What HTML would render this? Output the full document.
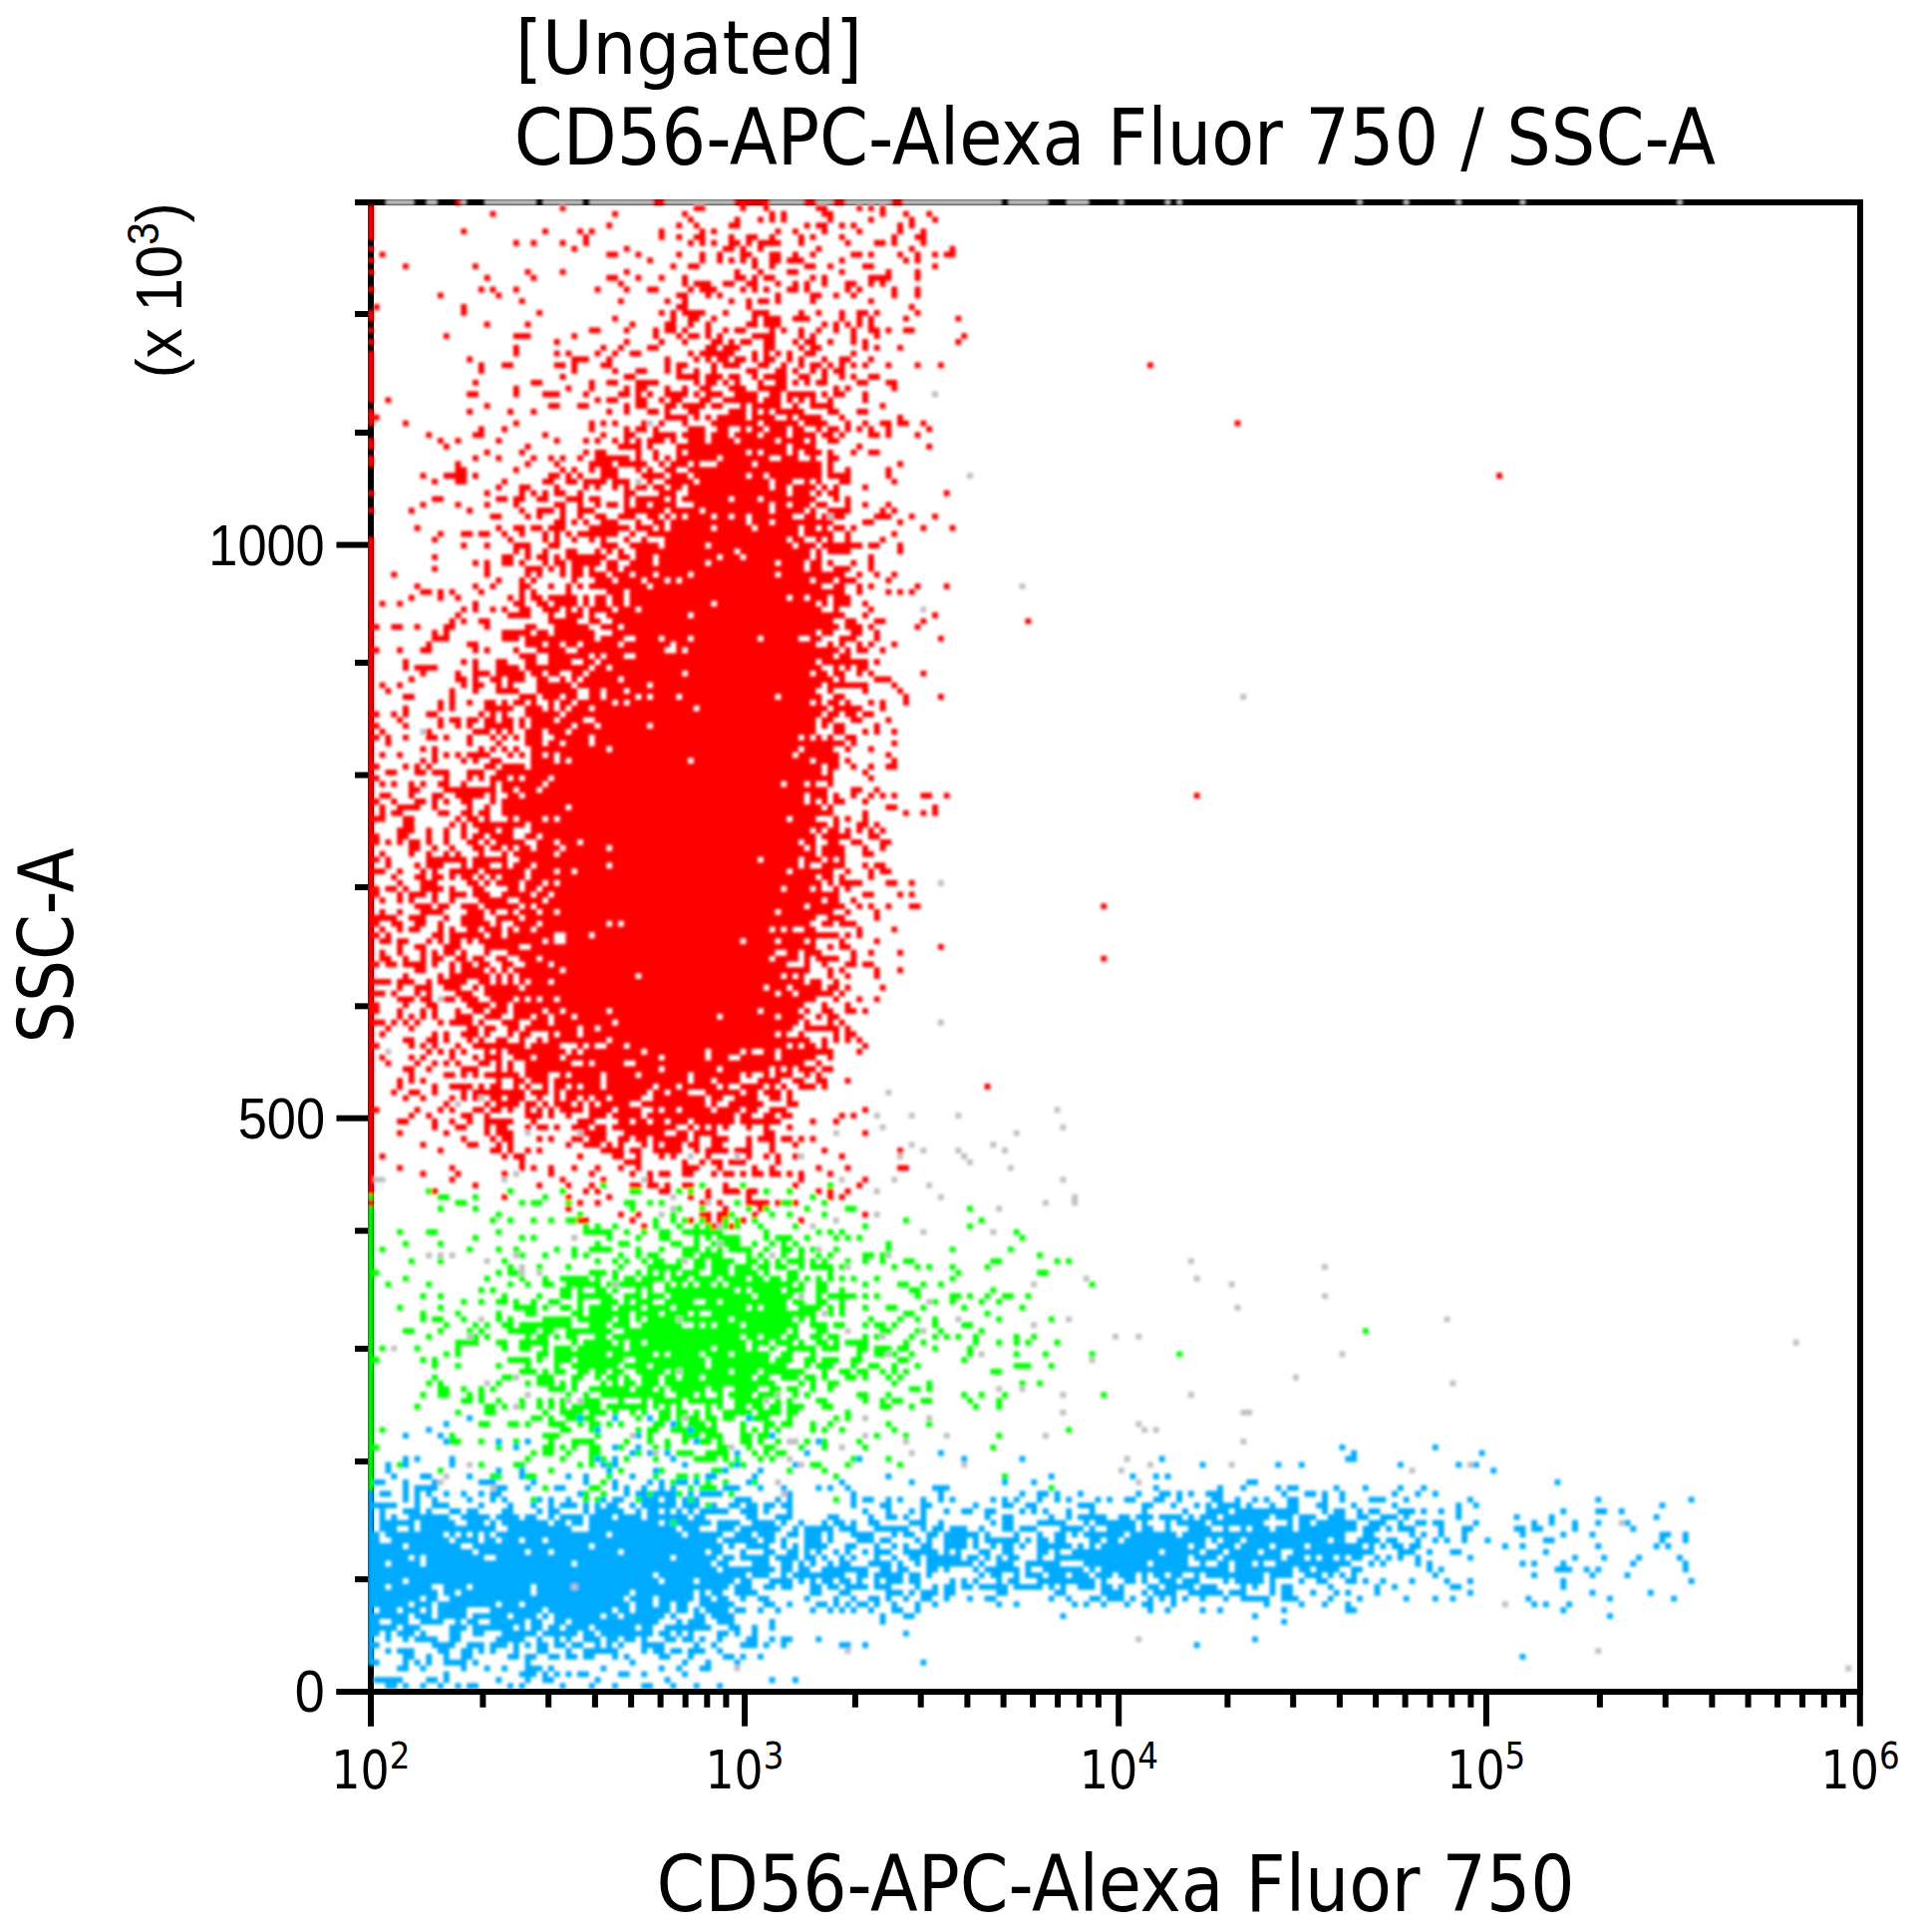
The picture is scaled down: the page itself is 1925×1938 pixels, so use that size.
<!DOCTYPE html>
<html><head><meta charset="utf-8"><title>CD56-APC-Alexa Fluor 750 / SSC-A</title>
<style>
html,body{margin:0;padding:0;background:#fff;}
body{width:1925px;height:1938px;overflow:hidden;position:relative;}
svg{position:absolute;left:0;top:0;}
.t{font-family:"DejaVu Sans Condensed","DejaVu Sans",sans-serif;font-stretch:condensed;fill:#000;}
.a{font-family:"Liberation Sans",Arial,sans-serif;fill:#000;}
</style></head><body>
<svg width="1925" height="1938" viewBox="0 0 1925 1938">
<g fill="#000">
<rect x="369.0" y="200.0" width="1500.0" height="6.0"/>
<rect x="1863.0" y="200.0" width="6.0" height="1500.0"/>
<rect x="337.5" y="1694.0" width="1531.5" height="6.0"/>
<rect x="369.0" y="200.0" width="6.0" height="1531.5"/>
<rect x="337.5" y="1694.0" width="35.0" height="6.0"/>
<rect x="337.5" y="1118.7" width="35.0" height="6.0"/>
<rect x="337.5" y="543.6" width="35.0" height="6.0"/>
<rect x="356.0" y="1581.2" width="16.0" height="6.0"/>
<rect x="356.0" y="1463.0" width="16.0" height="6.0"/>
<rect x="356.0" y="1349.9" width="16.0" height="6.0"/>
<rect x="356.0" y="1231.6" width="16.0" height="6.0"/>
<rect x="356.0" y="1006.3" width="16.0" height="6.0"/>
<rect x="356.0" y="887.0" width="16.0" height="6.0"/>
<rect x="356.0" y="774.5" width="16.0" height="6.0"/>
<rect x="356.0" y="661.8" width="16.0" height="6.0"/>
<rect x="356.0" y="431.0" width="16.0" height="6.0"/>
<rect x="356.0" y="312.0" width="16.0" height="6.0"/>
<rect x="356.0" y="200.0" width="16.0" height="6.0"/>
<rect x="369.0" y="1697.0" width="6.0" height="34.6"/>
<rect x="481.4" y="1697.0" width="6.0" height="15.7"/>
<rect x="547.2" y="1697.0" width="6.0" height="15.7"/>
<rect x="593.9" y="1697.0" width="6.0" height="15.7"/>
<rect x="630.1" y="1697.0" width="6.0" height="15.7"/>
<rect x="659.6" y="1697.0" width="6.0" height="15.7"/>
<rect x="684.6" y="1697.0" width="6.0" height="15.7"/>
<rect x="706.3" y="1697.0" width="6.0" height="15.7"/>
<rect x="725.4" y="1697.0" width="6.0" height="15.7"/>
<rect x="744.0" y="1697.0" width="6.0" height="34.6"/>
<rect x="854.9" y="1697.0" width="6.0" height="15.7"/>
<rect x="920.7" y="1697.0" width="6.0" height="15.7"/>
<rect x="967.4" y="1697.0" width="6.0" height="15.7"/>
<rect x="1003.6" y="1697.0" width="6.0" height="15.7"/>
<rect x="1033.1" y="1697.0" width="6.0" height="15.7"/>
<rect x="1058.1" y="1697.0" width="6.0" height="15.7"/>
<rect x="1079.8" y="1697.0" width="6.0" height="15.7"/>
<rect x="1098.9" y="1697.0" width="6.0" height="15.7"/>
<rect x="1119.2" y="1697.0" width="6.0" height="34.6"/>
<rect x="1228.4" y="1697.0" width="6.0" height="15.7"/>
<rect x="1294.2" y="1697.0" width="6.0" height="15.7"/>
<rect x="1340.9" y="1697.0" width="6.0" height="15.7"/>
<rect x="1377.1" y="1697.0" width="6.0" height="15.7"/>
<rect x="1406.6" y="1697.0" width="6.0" height="15.7"/>
<rect x="1431.6" y="1697.0" width="6.0" height="15.7"/>
<rect x="1453.3" y="1697.0" width="6.0" height="15.7"/>
<rect x="1472.4" y="1697.0" width="6.0" height="15.7"/>
<rect x="1487.9" y="1697.0" width="6.0" height="34.6"/>
<rect x="1601.9" y="1697.0" width="6.0" height="15.7"/>
<rect x="1667.7" y="1697.0" width="6.0" height="15.7"/>
<rect x="1714.4" y="1697.0" width="6.0" height="15.7"/>
<rect x="1750.6" y="1697.0" width="6.0" height="15.7"/>
<rect x="1780.1" y="1697.0" width="6.0" height="15.7"/>
<rect x="1805.1" y="1697.0" width="6.0" height="15.7"/>
<rect x="1826.8" y="1697.0" width="6.0" height="15.7"/>
<rect x="1845.9" y="1697.0" width="6.0" height="15.7"/>
<rect x="1862.8" y="1697.0" width="6.0" height="34.6"/>
</g>
<defs><filter id="bl" x="-1%" y="-1%" width="102%" height="102%"><feGaussianBlur stdDeviation="0.26"/></filter></defs>
<svg x="369" y="200" width="1494" height="1494" viewBox="0 0 256 256" preserveAspectRatio="none">
<g transform="translate(0 .5)" stroke-width="1" fill="none" filter="url(#bl)">
<path stroke="#c0c0c0" d="M3 0h5M10 0h2M16 0h1M20 0h9M30 0h7M38 0h11M51 0h12M69 0h6M77 0h3M82 0h8M92 0h17M110 0h7M120 0h4M129 0h1M137 0h1M139 0h1M170 0h1M178 0h1M187 0h1M198 0h1M225 0h1M97 33h1M48 38h1M103 47h1M46 48h1M79 54h1M112 66h1M95 70h1M150 85h1M9 91h1M98 117h1M12 137h1M98 141h1M3 146h1M89 153h1M19 154h1M15 155h1M118 156h1M87 157h1M93 157h1M101 157h1M88 159h1M119 159h1M27 160h1M36 160h1M80 160h1M111 160h1M93 162h1M107 162h1M95 163h1M101 163h1M109 163h1M55 164h1M63 164h1M74 164h1M91 164h1M102 164h1M103 165h1M110 166h1M25 167h1M1 168h2M23 168h1M47 168h1M81 168h1M90 168h1M119 168h1M96 169h1M87 170h1M52 171h1M98 171h1M121 171h1M58 172h1M116 172h1M121 172h1M52 173h1M108 173h1M50 174h1M87 174h1M80 175h1M60 176h1M76 176h1M95 177h1M107 177h1M35 178h1M60 179h1M77 180h1M10 181h1M12 181h1M14 181h1M25 181h1M69 181h1M89 181h1M20 182h1M54 182h1M141 182h1M26 183h1M82 183h1M164 183h1M26 184h1M29 184h1M123 185h1M142 185h1M42 186h1M114 186h1M148 186h1M74 188h1M164 188h1M96 189h1M149 190h1M78 191h1M19 192h1M53 192h1M101 192h1M120 192h1M185 192h1M114 193h1M82 194h1M95 194h1M17 195h1M88 195h1M128 195h1M132 195h1M245 196h1M4 197h1M89 198h1M105 198h1M167 198h1M124 199h1M53 201h1M25 202h1M159 202h1M20 203h1M186 203h1M108 204h1M112 204h1M27 205h1M70 205h1M119 205h1M141 205h1M34 206h1M36 206h1M68 206h1M25 207h1M119 208h1M150 208h2M54 209h1M85 209h1M96 209h1M132 210h1M133 211h1M135 211h1M45 212h1M85 212h1M99 212h1M116 212h1M72 213h2M92 213h1M150 213h1M62 214h1M81 214h1M49 215h1M93 215h1M72 216h1M130 216h1M17 217h1M74 217h1M102 217h1M134 217h1M148 217h1M189 217h1M129 218h1M179 218h1M13 219h1M12 220h1M70 220h1M132 220h1M21 221h1M71 222h1M215 227h1M35 238h1M195 241h1M132 247h1M82 249h1M211 249h1M63 252h1M254 252h1"/>
<path stroke="#00aaff" d="M17 209h1M36 209h1M42 209h1M48 209h1M65 209h1M13 210h1M52 210h1M10 211h1M39 211h1M55 211h1M6 212h1M12 212h1M46 212h1M69 212h1M13 213h1M22 213h1M27 213h1M56 213h1M77 213h1M25 214h1M42 214h1M46 214h1M167 214h1M183 214h1M45 215h1M48 215h1M51 215h1M63 215h1M75 215h1M98 215h1M169 215h1M191 215h1M6 216h1M8 216h1M14 216h1M39 216h1M42 216h1M52 216h1M84 216h1M102 216h1M112 216h1M136 216h1M168 216h2M3 217h1M6 217h1M14 217h1M40 217h1M42 217h1M54 217h1M63 217h1M73 217h1M143 217h1M156 217h1M160 217h1M177 217h1M187 217h1M190 217h1M3 218h1M22 218h1M26 218h1M41 218h1M49 218h1M61 218h1M67 218h1M193 218h1M4 219h1M9 219h2M17 219h1M26 219h1M34 219h1M37 219h1M45 219h1M58 219h2M66 219h1M89 219h1M117 219h1M131 219h1M135 219h1M137 219h1M1 220h2M6 220h1M11 220h1M19 220h3M28 220h1M37 220h1M42 220h1M48 220h1M50 220h1M53 220h2M56 220h1M65 220h1M81 220h1M93 220h1M109 220h1M114 220h1M151 220h2M204 220h1M6 221h1M8 221h4M22 221h2M27 221h1M32 221h2M42 221h1M44 221h1M47 221h1M50 221h1M52 221h1M61 221h3M67 221h1M71 221h1M77 221h1M79 221h1M82 221h1M97 221h3M135 221h1M146 221h1M150 221h1M156 221h1M158 221h2M166 221h1M171 221h1M177 221h1M181 221h1M0 222h1M2 222h2M6 222h1M8 222h1M10 222h1M13 222h1M16 222h1M19 222h1M21 222h2M36 222h1M44 222h1M46 222h2M49 222h4M55 222h1M57 222h4M72 222h1M83 222h1M98 222h1M112 222h1M115 222h2M118 222h1M122 222h1M132 222h1M136 222h2M139 222h1M141 222h1M144 222h3M157 222h1M161 222h2M164 222h1M167 222h1M176 222h1M180 222h1M183 222h1M0 223h1M6 223h1M8 223h1M11 223h1M17 223h1M21 223h1M23 223h1M29 223h1M31 223h1M34 223h1M40 223h1M42 223h2M47 223h3M51 223h2M54 223h1M56 223h1M63 223h3M70 223h1M72 223h1M83 223h1M85 223h2M89 223h1M91 223h1M95 223h1M98 223h1M100 223h1M107 223h1M109 223h1M111 223h1M115 223h1M118 223h1M120 223h1M125 223h1M127 223h1M130 223h2M135 223h2M139 223h1M145 223h2M149 223h1M152 223h1M154 223h1M158 223h2M164 223h1M167 223h1M172 223h3M178 223h1M189 223h1M211 223h1M227 223h1M0 224h5M8 224h1M11 224h3M19 224h1M24 224h1M28 224h1M31 224h1M33 224h3M37 224h1M39 224h1M41 224h2M45 224h1M47 224h6M54 224h3M59 224h1M62 224h2M65 224h2M68 224h2M71 224h2M83 224h1M88 224h2M95 224h2M104 224h1M109 224h2M113 224h2M122 224h3M133 224h2M138 224h1M142 224h1M144 224h1M146 224h4M151 224h1M155 224h1M158 224h2M163 224h2M169 224h1M176 224h1M187 224h1M190 224h1M222 224h1M0 225h1M2 225h1M6 225h3M10 225h1M14 225h2M17 225h2M23 225h2M29 225h1M31 225h2M37 225h1M39 225h5M46 225h1M48 225h2M51 225h1M53 225h1M55 225h1M57 225h5M64 225h3M68 225h1M72 225h1M85 225h1M89 225h1M93 225h1M95 225h1M99 225h1M102 225h2M106 225h2M112 225h1M114 225h1M116 225h1M120 225h1M124 225h1M133 225h1M140 225h1M144 225h4M149 225h11M164 225h1M166 225h2M170 225h1M172 225h2M177 225h3M181 225h1M184 225h1M187 225h1M205 225h1M211 225h2M215 225h1M0 226h1M2 226h1M4 226h1M7 226h7M16 226h5M22 226h4M27 226h2M31 226h1M33 226h4M38 226h4M43 226h4M48 226h7M56 226h2M65 226h2M70 226h3M79 226h2M86 226h1M89 226h2M92 226h1M95 226h1M106 226h1M109 226h2M117 226h1M120 226h1M122 226h5M129 226h2M132 226h3M136 226h4M141 226h1M143 226h3M147 226h8M156 226h3M160 226h3M165 226h3M170 226h2M174 226h3M178 226h1M187 226h1M197 226h1M203 226h1M221 226h1M0 227h1M2 227h6M9 227h6M17 227h3M21 227h1M23 227h8M32 227h2M35 227h2M38 227h12M51 227h1M53 227h6M60 227h4M66 227h4M71 227h1M74 227h1M78 227h1M80 227h2M83 227h1M86 227h2M93 227h3M98 227h1M107 227h1M109 227h2M115 227h5M123 227h1M125 227h7M133 227h1M137 227h1M139 227h5M145 227h9M158 227h1M160 227h2M163 227h7M172 227h3M177 227h1M180 227h2M183 227h2M190 227h1M200 227h1M203 227h1M207 227h1M211 227h1M216 227h1M0 228h1M2 228h3M7 228h1M9 228h13M24 228h11M38 228h15M54 228h3M60 228h3M64 228h7M73 228h1M75 228h5M81 228h3M87 228h6M95 228h1M97 228h2M100 228h3M105 228h1M109 228h2M112 228h3M119 228h4M124 228h1M127 228h5M133 228h2M137 228h1M141 228h4M147 228h1M150 228h1M152 228h3M156 228h3M160 228h10M171 228h3M175 228h1M177 228h3M184 228h1M188 228h2M197 228h2M200 228h2M207 228h1M217 228h1M0 229h2M3 229h10M14 229h1M16 229h1M18 229h1M20 229h1M22 229h19M42 229h12M55 229h6M63 229h3M67 229h3M72 229h2M75 229h3M79 229h1M83 229h4M90 229h1M92 229h2M96 229h2M99 229h6M106 229h1M111 229h1M115 229h1M118 229h2M121 229h1M123 229h7M131 229h8M140 229h28M171 229h2M179 229h1M181 229h1M184 229h1M188 229h1M198 229h1M205 229h1M210 229h1M222 229h2M226 229h1M0 230h2M4 230h10M15 230h4M20 230h2M23 230h3M27 230h3M31 230h29M61 230h6M68 230h2M71 230h1M75 230h3M79 230h1M84 230h3M88 230h2M94 230h1M96 230h1M99 230h4M104 230h1M106 230h6M113 230h1M115 230h2M118 230h2M124 230h2M127 230h2M130 230h14M145 230h1M147 230h3M151 230h14M166 230h2M170 230h4M175 230h2M180 230h1M183 230h1M185 230h1M188 230h1M192 230h1M202 230h2M222 230h1M226 230h1M0 231h6M7 231h9M18 231h20M39 231h22M62 231h1M65 231h4M71 231h1M73 231h1M75 231h4M82 231h2M87 231h1M90 231h1M92 231h1M95 231h2M99 231h4M104 231h1M107 231h1M109 231h2M112 231h1M115 231h6M122 231h1M124 231h1M126 231h15M142 231h2M146 231h3M150 231h5M156 231h5M162 231h9M172 231h1M174 231h1M176 231h2M179 231h2M195 231h1M198 231h1M211 231h1M221 231h1M223 231h1M0 232h18M19 232h8M28 232h3M32 232h11M44 232h14M59 232h2M64 232h1M68 232h2M72 232h2M75 232h1M77 232h1M80 232h1M82 232h1M85 232h1M87 232h3M92 232h6M99 232h1M101 232h1M105 232h2M109 232h2M115 232h2M118 232h1M121 232h15M137 232h6M144 232h3M148 232h5M154 232h3M159 232h14M177 232h3M182 232h1M186 232h2M202 232h1M0 233h7M8 233h1M10 233h10M22 233h30M53 233h7M61 233h2M64 233h5M70 233h4M75 233h2M78 233h1M81 233h1M83 233h1M87 233h1M90 233h1M93 233h2M96 233h6M103 233h2M106 233h1M108 233h1M110 233h2M115 233h1M118 233h23M142 233h4M147 233h10M158 233h3M162 233h1M164 233h2M167 233h1M169 233h2M173 233h1M175 233h1M177 233h1M180 233h1M189 233h1M207 233h1M212 233h1M218 233h1M225 233h1M0 234h3M4 234h5M10 234h25M36 234h23M60 234h2M66 234h3M71 234h2M74 234h1M76 234h1M79 234h1M81 234h2M86 234h4M91 234h1M94 234h1M96 234h8M105 234h1M108 234h3M113 234h6M123 234h11M135 234h6M143 234h1M146 234h2M149 234h3M153 234h1M156 234h13M172 234h1M174 234h1M180 234h1M182 234h1M198 234h1M200 234h1M205 234h1M217 234h1M226 234h1M0 235h60M61 235h9M71 235h2M74 235h2M78 235h8M88 235h2M91 235h2M96 235h2M99 235h1M104 235h1M106 235h6M113 235h1M116 235h7M124 235h1M126 235h22M149 235h10M160 235h2M163 235h4M169 235h2M182 235h1M184 235h1M204 235h3M209 235h1M211 235h1M226 235h1M0 236h49M50 236h15M66 236h3M71 236h1M73 236h9M84 236h2M87 236h5M93 236h2M96 236h1M105 236h1M107 236h2M111 236h1M113 236h3M117 236h3M121 236h3M125 236h3M129 236h3M133 236h1M135 236h2M138 236h2M142 236h1M144 236h10M155 236h4M161 236h3M165 236h1M167 236h1M169 236h1M183 236h1M200 236h1M210 236h1M216 236h1M0 237h6M7 237h43M51 237h5M57 237h6M64 237h2M69 237h4M74 237h1M76 237h1M78 237h2M81 237h2M84 237h1M87 237h1M89 237h3M93 237h2M100 237h1M102 237h1M104 237h1M108 237h1M110 237h2M115 237h10M126 237h1M130 237h2M133 237h1M136 237h3M140 237h3M147 237h1M149 237h5M155 237h1M160 237h1M163 237h2M168 237h2M171 237h1M174 237h1M179 237h1M185 237h1M189 237h1M205 237h1M227 237h1M0 238h3M4 238h7M13 238h4M18 238h10M29 238h6M36 238h26M63 238h3M68 238h2M71 238h2M76 238h2M79 238h2M82 238h4M87 238h3M94 238h1M97 238h1M99 238h2M102 238h2M105 238h5M111 238h5M117 238h1M119 238h1M122 238h3M126 238h2M129 238h1M134 238h2M137 238h5M143 238h3M150 238h1M152 238h1M155 238h1M157 238h2M165 238h1M173 238h1M176 238h1M186 238h2M205 238h1M0 239h12M13 239h2M16 239h12M29 239h16M46 239h10M57 239h1M59 239h2M63 239h4M76 239h2M81 239h2M89 239h3M93 239h1M95 239h3M99 239h2M108 239h2M118 239h2M126 239h4M133 239h1M135 239h4M141 239h6M148 239h3M155 239h1M157 239h2M162 239h1M166 239h1M168 239h1M173 239h1M189 239h1M210 239h1M220 239h1M0 240h9M10 240h2M14 240h30M45 240h4M50 240h6M57 240h2M60 240h2M64 240h1M67 240h2M75 240h1M80 240h1M83 240h1M86 240h2M89 240h1M92 240h1M95 240h2M99 240h1M103 240h1M106 240h2M117 240h1M120 240h1M124 240h2M127 240h3M131 240h1M134 240h1M136 240h1M138 240h1M140 240h1M143 240h1M147 240h1M150 240h5M157 240h3M165 240h1M170 240h1M178 240h1M183 240h1M186 240h1M199 240h1M213 240h1M224 240h1M0 241h7M8 241h3M12 241h10M23 241h3M27 241h18M46 241h3M50 241h2M53 241h2M57 241h6M68 241h2M72 241h1M77 241h2M80 241h1M82 241h1M84 241h2M87 241h1M90 241h1M94 241h1M97 241h1M108 241h1M111 241h1M121 241h1M123 241h1M126 241h1M130 241h1M133 241h2M138 241h1M154 241h1M160 241h1M164 241h1M168 241h1M200 241h1M202 241h1M206 241h1M0 242h1M2 242h3M6 242h3M10 242h1M12 242h5M21 242h9M31 242h11M43 242h2M46 242h6M53 242h2M56 242h1M58 242h4M63 242h2M67 242h1M70 242h1M76 242h1M79 242h1M81 242h1M83 242h1M86 242h1M90 242h2M94 242h1M134 242h1M137 242h1M143 242h1M146 242h1M157 242h1M168 242h2M205 242h1M0 243h7M8 243h3M12 243h5M18 243h6M25 243h4M30 243h1M32 243h8M41 243h2M44 243h7M52 243h1M56 243h2M59 243h4M88 243h1M92 243h2M119 243h1M152 243h1M213 243h1M0 244h2M4 244h3M9 244h4M15 244h1M17 244h2M21 244h6M28 244h2M32 244h2M35 244h15M53 244h1M55 244h3M60 244h3M69 244h1M88 244h1M157 244h1M0 245h5M6 245h3M14 245h3M18 245h7M26 245h1M28 245h2M31 245h2M34 245h4M39 245h7M47 245h2M51 245h8M62 245h2M66 245h1M69 245h1M0 246h2M3 246h1M5 246h3M9 246h1M14 246h2M18 246h2M23 246h6M30 246h6M37 246h2M40 246h9M50 246h2M53 246h1M55 246h1M60 246h2M63 246h1M66 246h1M92 246h1M0 247h1M3 247h1M6 247h1M8 247h4M14 247h2M22 247h5M29 247h1M32 247h1M34 247h1M37 247h3M41 247h2M44 247h2M47 247h1M51 247h2M54 247h2M57 247h1M60 247h1M65 247h2M69 247h1M71 247h2M77 247h1M152 247h1M0 248h2M11 248h4M17 248h3M21 248h3M25 248h1M27 248h1M29 248h2M32 248h2M35 248h2M39 248h1M41 248h1M43 248h1M47 248h4M56 248h1M59 248h1M64 248h3M68 248h1M71 248h1M81 248h2M85 248h1M142 248h1M0 249h1M3 249h1M5 249h3M12 249h2M16 249h2M19 249h1M21 249h1M25 249h1M29 249h2M34 249h1M37 249h6M47 249h1M49 249h2M52 249h2M55 249h3M60 249h1M0 250h1M6 250h2M10 250h1M13 250h1M16 250h2M24 250h2M27 250h2M31 250h2M34 250h2M37 250h2M42 250h1M44 250h1M50 250h2M55 250h1M61 250h2M64 250h1M67 250h1M198 250h1M0 251h2M6 251h1M8 251h1M10 251h1M13 251h4M18 251h1M27 251h1M45 251h1M54 251h1M58 251h1M63 251h1M95 251h1M5 252h2M9 252h1M16 252h1M20 252h1M23 252h1M27 252h3M31 252h1M40 252h1M50 252h1M53 252h1M57 252h2M13 253h1M26 253h3M30 253h1M32 253h1M34 253h1M36 253h2M43 253h2M47 253h1M54 253h1M1 254h5M10 254h2M13 254h1M22 254h1M27 254h1M30 254h2M39 254h1M51 254h1M69 254h1M73 254h1M3 255h2M6 255h1M9 255h1M12 255h1M15 255h1M17 255h2M24 255h1M26 255h1M33 255h1M38 255h1M42 255h1M47 255h2M52 255h1M56 255h1M60 255h1"/>
<path stroke="#00ff00" d="M40 169h1M57 169h1M64 169h1M79 169h1M10 170h1M24 170h1M33 170h1M45 170h2M53 170h1M55 170h1M68 170h1M72 170h1M0 171h1M12 171h2M18 171h1M30 171h1M76 171h1M15 172h2M26 172h1M28 172h2M34 172h1M44 172h2M48 172h1M50 172h1M63 172h1M71 172h2M78 172h1M0 173h1M12 173h1M18 173h1M45 173h1M53 173h1M57 173h1M65 173h1M68 173h1M75 173h1M82 173h2M103 173h1M0 174h1M22 174h1M36 174h1M52 174h1M62 174h1M69 174h1M72 174h1M78 174h1M0 175h1M21 175h1M24 175h1M28 175h1M31 175h1M34 175h2M49 175h1M52 175h1M54 175h1M57 175h1M61 175h1M63 175h1M66 175h1M92 175h1M105 175h1M0 176h1M37 176h1M39 176h1M42 176h1M49 176h1M53 176h1M56 176h1M58 176h1M61 176h1M63 176h1M67 176h1M73 176h1M85 176h1M103 176h1M0 177h1M5 177h1M10 177h2M22 177h1M37 177h5M44 177h1M47 177h1M50 177h2M54 177h7M68 177h1M77 177h1M79 177h1M81 177h1M111 177h1M0 178h1M18 178h1M26 178h1M28 178h1M41 178h1M46 178h1M50 178h2M56 178h1M58 178h1M60 178h4M68 178h1M70 178h3M75 178h1M80 178h1M82 178h1M84 178h1M112 178h1M0 179h1M6 179h1M12 179h1M39 179h1M43 179h2M52 179h2M56 179h1M59 179h1M61 179h3M66 179h1M69 179h1M71 179h1M73 179h1M89 179h1M0 180h1M2 180h1M17 180h1M22 180h1M25 180h1M32 180h1M35 180h1M38 180h4M46 180h1M50 180h1M54 180h3M58 180h1M60 180h1M62 180h4M68 180h1M71 180h2M74 180h1M76 180h1M80 180h1M89 180h1M100 180h1M110 180h1M0 181h1M26 181h1M30 181h1M35 181h1M37 181h1M43 181h1M46 181h1M48 181h2M54 181h2M57 181h4M65 181h1M67 181h1M71 181h1M74 181h1M77 181h1M79 181h1M85 181h2M88 181h1M115 181h1M0 182h1M7 182h1M12 182h1M23 182h1M39 182h1M42 182h1M44 182h1M47 182h1M49 182h2M53 182h1M56 182h2M59 182h4M65 182h2M68 182h1M70 182h1M72 182h3M76 182h1M78 182h1M82 182h1M85 182h1M88 182h1M92 182h2M107 182h2M118 182h1M120 182h1M0 183h1M24 183h1M29 183h1M34 183h1M43 183h1M48 183h6M56 183h2M59 183h3M63 183h3M67 183h2M70 183h2M74 183h1M76 183h4M81 183h1M90 183h1M94 183h1M96 183h1M100 183h1M106 183h1M0 184h2M22 184h1M24 184h2M38 184h3M42 184h1M46 184h1M48 184h1M50 184h1M52 184h1M54 184h3M59 184h3M63 184h4M68 184h1M72 184h2M79 184h1M101 184h1M115 184h2M0 185h1M6 185h1M20 185h1M26 185h1M30 185h1M33 185h5M39 185h1M42 185h1M44 185h2M47 185h4M52 185h3M56 185h4M61 185h4M66 185h2M69 185h2M72 185h2M75 185h1M77 185h1M79 185h1M81 185h1M83 185h1M87 185h1M100 185h1M0 186h1M3 186h1M10 186h1M24 186h1M27 186h1M30 186h2M34 186h6M41 186h1M43 186h6M51 186h1M53 186h1M55 186h1M57 186h2M60 186h1M62 186h11M74 186h1M77 186h2M85 186h1M91 186h2M95 186h1M98 186h1M124 186h1M0 187h1M19 187h1M21 187h1M33 187h2M36 187h1M39 187h2M42 187h1M46 187h1M48 187h1M51 187h12M64 187h1M66 187h5M72 187h3M77 187h2M81 187h1M93 187h2M107 187h1M0 188h1M9 188h1M12 188h1M23 188h1M29 188h1M33 188h2M36 188h6M44 188h3M48 188h3M52 188h14M67 188h6M77 188h1M79 188h5M85 188h1M87 188h1M94 188h1M100 188h2M103 188h1M106 188h1M109 188h2M113 188h1M0 189h1M16 189h1M19 189h1M22 189h2M25 189h1M28 189h1M31 189h2M36 189h1M40 189h3M44 189h1M46 189h3M51 189h5M58 189h2M61 189h11M73 189h2M77 189h2M81 189h1M97 189h1M100 189h1M105 189h1M108 189h1M0 190h1M5 190h1M12 190h1M25 190h4M30 190h1M33 190h2M36 190h1M38 190h4M43 190h4M48 190h4M53 190h12M66 190h1M68 190h4M74 190h4M79 190h1M81 190h1M85 190h1M89 190h2M95 190h1M102 190h1M112 190h1M0 191h1M9 191h1M15 191h1M22 191h1M27 191h2M35 191h2M38 191h7M46 191h4M51 191h4M56 191h1M59 191h18M79 191h1M81 191h1M92 191h2M106 191h1M0 192h1M9 192h1M11 192h2M16 192h1M22 192h1M24 192h1M30 192h5M36 192h6M43 192h2M46 192h1M48 192h5M54 192h8M63 192h10M74 192h1M76 192h1M86 192h1M91 192h1M94 192h1M97 192h1M108 192h1M117 192h1M0 193h1M13 193h1M18 193h1M20 193h1M23 193h2M26 193h9M38 193h3M42 193h3M47 193h7M56 193h1M58 193h1M60 193h4M65 193h9M76 193h3M80 193h2M85 193h1M87 193h2M90 193h1M97 193h1M102 193h2M0 194h1M6 194h2M12 194h1M17 194h1M19 194h1M24 194h5M30 194h2M34 194h8M44 194h28M73 194h1M77 194h2M88 194h2M94 194h1M98 194h1M105 194h1M171 194h1M0 195h1M10 195h1M18 195h1M20 195h1M27 195h1M29 195h2M32 195h1M34 195h2M39 195h2M42 195h22M65 195h2M68 195h3M72 195h2M76 195h2M79 195h2M85 195h1M87 195h1M93 195h1M97 195h1M99 195h1M101 195h1M104 195h1M111 195h1M114 195h1M0 196h1M15 196h4M22 196h2M26 196h5M35 196h1M37 196h5M43 196h1M45 196h2M48 196h17M66 196h3M70 196h3M74 196h1M77 196h2M80 196h1M82 196h4M92 196h1M95 196h1M104 196h1M108 196h1M111 196h1M113 196h1M118 196h1M0 197h1M2 197h1M8 197h1M15 197h1M23 197h1M26 197h2M30 197h1M32 197h3M36 197h8M45 197h14M60 197h5M66 197h1M69 197h1M72 197h5M78 197h3M84 197h2M87 197h3M91 197h2M97 197h1M103 197h1M0 198h1M13 198h1M15 198h1M29 198h2M32 198h9M42 198h7M50 198h1M52 198h5M58 198h4M63 198h6M71 198h2M76 198h1M84 198h1M87 198h2M90 198h1M93 198h1M103 198h1M111 198h1M116 198h1M124 198h1M139 198h1M0 199h2M9 199h1M11 199h1M24 199h4M29 199h1M32 199h3M36 199h8M46 199h12M59 199h10M70 199h3M75 199h2M78 199h3M83 199h2M91 199h2M102 199h1M0 200h1M11 200h1M15 200h1M22 200h1M27 200h1M32 200h1M35 200h8M44 200h4M49 200h9M59 200h13M75 200h1M77 200h3M83 200h1M86 200h2M90 200h1M94 200h1M111 200h3M117 200h1M0 201h1M26 201h3M30 201h1M32 201h2M36 201h2M39 201h2M42 201h2M46 201h5M52 201h1M54 201h8M63 201h4M68 201h7M78 201h1M81 201h2M84 201h2M88 201h1M90 201h1M92 201h1M107 201h2M0 202h1M11 202h1M23 202h2M29 202h3M35 202h2M39 202h1M41 202h2M44 202h1M47 202h3M51 202h2M54 202h3M58 202h8M67 202h2M71 202h3M75 202h2M78 202h1M82 202h2M85 202h1M89 202h1M91 202h1M0 203h1M10 203h1M12 203h1M22 203h1M27 203h1M29 203h3M33 203h1M35 203h1M40 203h1M42 203h1M44 203h2M47 203h3M51 203h19M74 203h1M76 203h1M79 203h2M90 203h1M96 203h1M112 203h1M115 203h1M0 204h1M12 204h2M16 204h1M19 204h1M21 204h1M31 204h3M35 204h1M38 204h7M46 204h3M50 204h1M52 204h6M59 204h2M63 204h4M69 204h2M72 204h2M76 204h1M79 204h1M93 204h2M96 204h1M0 205h1M9 205h1M12 205h2M17 205h1M19 205h1M34 205h1M37 205h1M40 205h11M53 205h3M57 205h1M60 205h1M62 205h4M67 205h3M73 205h1M75 205h1M84 205h2M89 205h1M102 205h1M105 205h1M109 205h1M126 205h1M0 206h1M16 206h2M19 206h1M22 206h1M26 206h1M29 206h1M31 206h1M33 206h1M37 206h3M43 206h1M47 206h1M49 206h5M55 206h6M63 206h5M70 206h1M72 206h1M77 206h2M85 206h1M88 206h1M90 206h2M95 206h2M103 206h1M108 206h1M0 207h1M8 207h1M20 207h2M23 207h1M26 207h1M29 207h1M31 207h1M33 207h1M35 207h5M41 207h7M49 207h1M51 207h1M53 207h1M58 207h1M60 207h1M63 207h2M66 207h2M69 207h2M72 207h3M78 207h2M88 207h2M93 207h1M104 207h1M108 207h1M0 208h1M15 208h1M20 208h2M30 208h1M33 208h4M38 208h3M42 208h1M45 208h1M47 208h1M50 208h2M53 208h2M56 208h1M58 208h1M61 208h5M67 208h4M72 208h2M82 208h1M0 209h1M28 209h2M31 209h1M34 209h2M37 209h2M46 209h1M50 209h2M53 209h1M55 209h2M58 209h2M61 209h2M66 209h3M72 209h1M80 209h1M82 209h1M0 210h1M19 210h2M24 210h2M27 210h1M31 210h3M36 210h1M38 210h2M41 210h1M43 210h1M49 210h2M53 210h1M55 210h3M59 210h1M64 210h1M68 210h2M71 210h2M76 210h1M79 210h1M89 210h1M96 210h1M0 211h1M2 211h1M33 211h2M38 211h1M46 211h1M48 211h2M52 211h3M56 211h4M64 211h1M66 211h1M68 211h1M70 211h1M76 211h1M78 211h1M81 211h1M90 211h1M120 211h1M0 212h1M14 212h1M30 212h3M39 212h1M48 212h1M54 212h3M58 212h3M64 212h2M67 212h2M87 212h1M92 212h1M108 212h1M0 213h1M14 213h2M19 213h1M25 213h1M31 213h1M35 213h4M44 213h1M48 213h1M51 213h1M54 213h1M57 213h2M60 213h1M64 213h2M67 213h1M70 213h1M75 213h1M78 213h1M84 213h1M0 214h2M22 214h1M30 214h2M33 214h1M35 214h1M38 214h2M43 214h1M49 214h1M51 214h1M60 214h2M65 214h1M68 214h2M74 214h1M78 214h1M85 214h1M107 214h1M0 215h1M28 215h1M30 215h2M34 215h1M38 215h2M46 215h1M53 215h3M58 215h4M66 215h1M68 215h1M70 215h2M0 216h1M27 216h1M33 216h1M38 216h1M40 216h1M44 216h1M49 216h1M56 216h4M61 216h1M63 216h1M67 216h1M69 216h1M83 216h1M89 216h1M0 217h1M5 217h1M19 217h1M25 217h2M36 217h1M38 217h1M41 217h1M62 217h1M64 217h1M76 217h2M82 217h1M91 217h1M0 218h1M12 218h1M31 218h1M43 218h1M50 218h1M59 218h2M72 218h1M78 218h1M0 219h1M21 219h2M27 219h2M41 219h1M49 219h1M53 219h2M56 219h1M80 219h1M109 219h1M0 220h1M40 220h1M52 220h1M58 220h1M61 220h1M66 220h1M0 221h1M30 221h1M38 221h2M55 221h1M57 221h3M117 221h1M37 222h1M40 222h1M48 222h1M53 222h1M62 222h1M28 223h1M37 223h1M39 223h1M46 223h1M55 223h1M80 223h1M58 224h1M52 227h1"/>
<path stroke="#ff0000" d="M15 0h1M49 0h2M63 0h6M75 0h2M80 0h2M90 0h2M0 1h1M33 1h1M56 1h2M64 1h1M68 1h1M77 1h2M84 1h1M86 1h1M88 1h1M0 2h1M21 2h1M42 2h1M54 2h1M69 2h1M71 2h1M78 2h2M88 2h1M92 2h1M96 2h1M0 3h1M55 3h1M63 3h1M67 3h1M69 3h1M71 3h1M79 3h1M86 3h1M93 3h1M97 3h1M0 4h1M41 4h1M53 4h1M56 4h1M62 4h2M75 4h1M77 4h2M81 4h1M83 4h1M91 4h1M93 4h1M0 5h1M16 5h1M30 5h1M36 5h1M38 5h1M50 5h1M57 5h1M59 5h1M70 5h1M73 5h1M78 5h1M84 5h1M91 5h1M95 5h1M0 6h1M37 6h1M50 6h1M53 6h1M56 6h2M62 6h1M65 6h2M69 6h1M74 6h1M76 6h1M81 6h1M90 6h1M94 6h2M25 7h1M28 7h1M33 7h1M37 7h1M55 7h1M57 7h1M59 7h1M62 7h2M65 7h1M67 7h4M74 7h1M82 7h1M87 7h2M90 7h1M95 7h1M0 8h1M35 8h1M44 8h1M61 8h2M64 8h1M67 8h1M77 8h1M93 8h1M100 8h1M2 9h1M41 9h2M46 9h1M53 9h1M57 9h1M60 9h1M64 9h2M69 9h2M73 9h1M76 9h1M83 9h2M86 9h1M91 9h1M94 9h1M97 9h1M99 9h2M0 10h1M48 10h1M57 10h1M60 10h1M62 10h1M64 10h1M66 10h1M69 10h2M72 10h3M81 10h1M92 10h1M94 10h1M6 11h1M18 11h1M52 11h1M55 11h2M66 11h1M69 11h1M75 11h2M79 11h1M85 11h2M97 11h1M0 12h1M27 12h1M33 12h1M44 12h1M63 12h1M67 12h1M72 12h2M81 12h1M89 12h1M94 12h1M20 13h1M28 13h1M41 13h2M46 13h1M50 13h1M54 13h1M63 13h2M66 13h1M68 13h2M76 13h1M78 13h1M86 13h4M94 13h1M43 14h1M54 14h1M56 14h3M61 14h2M65 14h2M70 14h1M73 14h1M75 14h1M78 14h1M82 14h2M86 14h1M88 14h1M0 15h1M19 15h1M21 15h1M25 15h1M39 15h1M44 15h1M48 15h2M55 15h1M57 15h3M64 15h1M66 15h1M68 15h1M72 15h2M75 15h1M82 15h1M84 15h1M90 15h1M94 15h1M12 16h1M22 16h1M53 16h2M58 16h1M60 16h1M70 16h1M76 16h2M80 16h1M83 16h1M90 16h1M94 16h1M26 17h1M43 17h1M51 17h1M54 17h1M62 17h1M65 17h1M67 17h2M70 17h1M76 17h1M86 17h1M1 18h1M16 18h1M53 18h2M65 18h1M93 18h1M0 19h1M16 19h1M29 19h1M50 19h1M52 19h1M54 19h4M61 19h1M66 19h3M74 19h1M77 19h1M81 19h1M84 19h2M87 19h1M94 19h1M0 20h1M42 20h1M52 20h1M55 20h2M59 20h1M66 20h1M68 20h3M73 20h3M81 20h1M84 20h1M86 20h1M92 20h1M101 20h1M20 21h1M27 21h1M45 21h1M51 21h2M55 21h1M58 21h1M65 21h2M68 21h3M78 21h1M80 21h1M82 21h1M84 21h1M86 21h1M0 22h1M38 22h2M44 22h1M49 22h1M51 22h2M54 22h1M58 22h1M61 22h1M63 22h2M69 22h1M71 22h1M74 22h1M77 22h1M80 22h1M83 22h1M86 22h2M89 22h1M92 22h2M13 23h1M25 23h3M35 23h1M49 23h1M53 23h1M55 23h2M58 23h1M60 23h1M66 23h4M74 23h1M76 23h1M83 23h1M87 23h1M102 23h1M0 24h1M32 24h1M44 24h1M50 24h1M54 24h1M59 24h2M62 24h1M64 24h2M68 24h2M73 24h1M75 24h2M79 24h1M83 24h1M85 24h1M101 24h1M25 25h1M40 25h1M43 25h1M48 25h2M58 25h2M61 25h3M68 25h2M74 25h1M76 25h2M85 25h1M87 25h1M91 25h1M0 26h1M25 26h1M32 26h1M34 26h1M39 26h1M42 26h1M45 26h2M55 26h1M57 26h6M66 26h1M68 26h1M70 26h1M72 26h1M75 26h2M83 26h1M0 27h1M17 27h1M35 27h3M41 27h1M51 27h1M56 27h1M58 27h1M60 27h2M63 27h2M66 27h1M68 27h2M72 27h1M74 27h1M78 27h1M81 27h2M86 27h1M0 28h1M19 28h1M23 28h2M32 28h2M35 28h1M40 28h2M51 28h1M53 28h2M59 28h1M61 28h3M67 28h2M71 28h1M74 28h1M76 28h2M79 28h1M81 28h1M83 28h1M85 28h1M89 28h1M94 28h1M98 28h1M134 28h1M0 29h1M19 29h1M35 29h1M42 29h1M46 29h2M51 29h1M53 29h1M56 29h1M59 29h1M65 29h2M70 29h2M73 29h1M76 29h1M78 29h1M80 29h2M0 30h1M33 30h1M44 30h2M53 30h4M58 30h3M62 30h2M66 30h1M68 30h4M74 30h2M78 30h1M81 30h1M83 30h1M86 30h2M0 31h1M18 31h1M28 31h2M38 31h1M41 31h2M46 31h4M56 31h1M58 31h2M61 31h1M63 31h1M67 31h1M70 31h2M73 31h1M75 31h1M77 31h2M84 31h2M89 31h2M0 32h1M25 32h1M34 32h1M38 32h1M44 32h1M46 32h2M51 32h1M54 32h1M57 32h2M62 32h3M67 32h5M80 32h1M82 32h1M90 32h1M0 33h1M17 33h2M25 33h1M30 33h3M37 33h1M43 33h2M46 33h1M48 33h1M51 33h4M56 33h1M58 33h3M63 33h4M69 33h2M72 33h5M78 33h1M80 33h2M85 33h1M0 34h1M3 34h1M39 34h1M41 34h2M46 34h2M50 34h1M52 34h2M57 34h2M61 34h6M68 34h3M72 34h1M74 34h1M76 34h1M79 34h1M85 34h1M20 35h1M31 35h2M36 35h2M44 35h1M46 35h2M51 35h2M54 35h4M59 35h2M64 35h1M66 35h5M73 35h1M76 35h4M88 35h1M0 36h1M17 36h1M24 36h1M28 36h1M41 36h1M44 36h1M48 36h2M51 36h1M55 36h2M62 36h3M66 36h1M68 36h1M70 36h5M79 36h2M84 36h2M0 37h2M51 37h4M56 37h1M58 37h1M60 37h5M66 37h4M72 37h1M74 37h4M81 37h1M91 37h1M0 38h1M6 38h1M25 38h1M38 38h1M40 38h1M42 38h1M47 38h1M50 38h1M54 38h1M59 38h8M68 38h6M75 38h4M82 38h1M85 38h1M88 38h2M91 38h2M95 38h1M149 38h1M19 39h1M23 39h1M38 39h1M44 39h1M46 39h2M49 39h1M55 39h3M60 39h2M64 39h1M66 39h2M69 39h3M73 39h2M77 39h1M79 39h2M82 39h1M84 39h1M86 39h1M89 39h1M96 39h1M10 40h1M18 40h2M30 40h1M40 40h1M44 40h2M49 40h4M54 40h4M59 40h3M63 40h4M68 40h4M73 40h4M78 40h2M81 40h1M86 40h2M89 40h1M94 40h1M0 41h1M12 41h1M15 41h1M22 41h1M32 41h1M37 41h1M39 41h1M42 41h1M44 41h1M46 41h1M48 41h3M52 41h1M55 41h3M59 41h4M64 41h6M71 41h4M76 41h1M79 41h2M0 42h1M13 42h1M27 42h1M43 42h4M48 42h1M53 42h19M73 42h4M84 42h1M96 42h1M20 43h1M26 43h1M37 43h1M39 43h2M46 43h1M49 43h1M53 43h1M55 43h10M66 43h1M68 43h4M73 43h1M75 43h3M79 43h1M83 43h1M86 43h2M0 44h1M18 44h1M22 44h1M28 44h1M31 44h1M33 44h1M36 44h1M39 44h6M46 44h1M49 44h1M51 44h1M53 44h7M61 44h8M71 44h3M76 44h1M79 44h2M0 45h1M15 45h1M27 45h1M32 45h1M38 45h4M43 45h5M50 45h1M52 45h3M56 45h1M60 45h6M67 45h11M79 45h1M91 45h1M15 46h2M25 46h1M33 46h1M35 46h1M38 46h1M40 46h3M46 46h1M48 46h1M51 46h2M55 46h23M79 46h1M82 46h1M89 46h1M9 47h1M13 47h4M18 47h1M31 47h2M34 47h1M36 47h1M40 47h3M47 47h4M52 47h3M56 47h9M66 47h2M69 47h9M79 47h4M89 47h1M194 47h1M11 48h1M15 48h2M23 48h1M30 48h2M34 48h2M37 48h4M42 48h3M48 48h1M51 48h5M57 48h12M70 48h3M75 48h1M77 48h1M81 48h2M90 48h1M22 49h1M26 49h2M32 49h1M37 49h1M39 49h1M42 49h1M44 49h1M46 49h2M49 49h2M52 49h2M55 49h14M70 49h2M73 49h4M78 49h1M80 49h1M85 49h1M0 50h1M20 50h1M26 50h1M28 50h1M30 50h1M32 50h2M36 50h1M44 50h2M50 50h3M55 50h17M73 50h3M77 50h1M79 50h2M99 50h1M11 51h2M22 51h2M25 51h2M29 51h2M34 51h3M38 51h2M44 51h1M46 51h5M52 51h1M54 51h8M63 51h4M68 51h9M80 51h1M82 51h1M9 52h1M15 52h1M20 52h1M25 52h1M32 52h2M36 52h1M39 52h1M41 52h2M44 52h1M46 52h2M49 52h4M56 52h13M70 52h2M73 52h3M77 52h2M82 52h1M85 52h1M89 52h1M0 53h1M7 53h1M17 53h1M26 53h1M29 53h3M33 53h1M36 53h3M44 53h7M52 53h5M58 53h11M70 53h5M76 53h1M79 53h4M88 53h1M90 53h1M21 54h2M27 54h1M29 54h1M33 54h1M36 54h1M39 54h2M43 54h3M48 54h2M51 54h1M53 54h1M55 54h4M60 54h2M63 54h2M66 54h7M75 54h2M78 54h1M80 54h2M87 54h3M93 54h1M97 54h1M32 55h2M35 55h1M37 55h1M40 55h3M46 55h1M49 55h2M52 55h13M66 55h3M70 55h10M85 55h2M91 55h1M8 56h1M22 56h1M25 56h2M28 56h2M31 56h3M38 56h7M46 56h3M50 56h1M52 56h7M60 56h6M67 56h7M75 56h2M78 56h1M80 56h2M83 56h1M95 56h1M100 56h1M12 57h1M16 57h2M19 57h2M23 57h1M26 57h1M30 57h1M32 57h1M34 57h1M36 57h7M45 57h1M48 57h26M75 57h5M82 57h1M90 57h1M0 58h1M11 58h1M24 58h1M30 58h1M32 58h1M35 58h1M38 58h1M40 58h1M44 58h1M47 58h1M51 58h21M73 58h2M77 58h1M79 58h1M82 58h1M88 58h1M0 59h1M16 59h1M20 59h1M25 59h3M31 59h2M40 59h3M45 59h5M51 59h7M59 59h14M74 59h3M78 59h7M86 59h2M91 59h1M0 60h1M25 60h1M27 60h1M30 60h1M34 60h2M39 60h1M41 60h1M43 60h1M46 60h17M64 60h12M77 60h1M79 60h4M91 60h1M0 61h1M11 61h1M23 61h2M27 61h1M29 61h2M32 61h1M34 61h7M43 61h2M46 61h3M50 61h10M61 61h3M65 61h11M77 61h1M86 61h1M0 62h1M18 62h1M20 62h1M23 62h2M26 62h1M30 62h1M32 62h2M35 62h5M41 62h2M45 62h4M50 62h8M59 62h11M71 62h4M76 62h2M79 62h1M83 62h1M86 62h1M0 63h1M11 63h1M20 63h1M27 63h3M31 63h1M33 63h1M35 63h2M38 63h1M41 63h2M44 63h31M76 63h2M80 63h3M86 63h1M0 64h1M4 64h1M20 64h1M27 64h1M29 64h1M33 64h1M35 64h2M38 64h3M42 64h3M46 64h3M50 64h5M56 64h14M71 64h11M84 64h1M87 64h1M90 64h1M0 65h1M22 65h1M26 65h1M28 65h1M35 65h1M39 65h3M43 65h4M48 65h3M52 65h1M54 65h22M77 65h3M81 65h3M89 65h1M0 66h1M8 66h1M18 66h1M21 66h1M26 66h2M31 66h1M34 66h1M36 66h1M38 66h10M49 66h29M80 66h2M84 66h1M86 66h1M94 66h1M99 66h1M0 67h1M9 67h2M12 67h1M14 67h1M19 67h1M26 67h1M28 67h1M34 67h1M41 67h3M45 67h37M84 67h1M89 67h1M91 67h1M93 67h1M0 68h1M7 68h1M12 68h1M15 68h1M24 68h1M26 68h1M28 68h2M31 68h5M37 68h1M39 68h2M42 68h2M45 68h27M73 68h2M76 68h3M80 68h3M0 69h1M2 69h1M5 69h1M18 69h1M25 69h2M29 69h2M32 69h4M37 69h1M39 69h2M42 69h2M45 69h14M60 69h17M78 69h1M80 69h3M85 69h1M0 70h1M16 70h1M18 70h1M21 70h1M23 70h1M26 70h2M30 70h3M34 70h1M36 70h1M38 70h4M43 70h3M47 70h31M80 70h1M86 70h1M0 71h1M15 71h1M24 71h4M31 71h1M34 71h3M38 71h1M41 71h14M56 71h26M85 71h1M97 71h1M0 72h1M14 72h1M16 72h1M19 72h2M31 72h5M38 72h2M42 72h38M82 72h2M87 72h2M95 72h1M113 72h1M0 73h2M4 73h2M8 73h1M13 73h2M20 73h1M27 73h2M32 73h6M40 73h3M44 73h37M82 73h3M86 73h1M94 73h1M0 74h1M11 74h1M13 74h1M23 74h5M29 74h2M32 74h7M42 74h35M78 74h2M83 74h2M87 74h1M0 75h1M11 75h3M23 75h3M27 75h12M40 75h4M46 75h4M51 75h4M56 75h11M68 75h6M76 75h2M81 75h3M87 75h1M98 75h1M0 76h1M10 76h1M17 76h2M27 76h3M31 76h2M34 76h2M37 76h6M44 76h8M53 76h24M79 76h1M81 76h1M84 76h1M86 76h1M90 76h1M0 77h2M5 77h1M9 77h2M18 77h1M20 77h1M25 77h1M29 77h5M36 77h15M53 77h1M55 77h26M82 77h1M84 77h2M88 77h1M0 78h1M26 78h3M31 78h7M39 78h1M41 78h3M46 78h34M81 78h2M0 79h1M6 79h1M16 79h1M18 79h1M22 79h2M27 79h2M31 79h4M37 79h2M40 79h37M78 79h8M87 79h1M0 80h1M6 80h1M8 80h4M18 80h1M22 80h4M27 80h11M39 80h2M42 80h36M80 80h1M82 80h1M84 80h2M0 81h1M9 81h1M15 81h1M18 81h3M22 81h5M28 81h2M31 81h2M35 81h2M38 81h16M55 81h21M77 81h2M80 81h2M84 81h1M86 81h1M95 81h1M0 82h1M7 82h1M15 82h2M18 82h1M21 82h2M24 82h3M29 82h2M33 82h1M35 82h1M37 82h6M44 82h36M81 82h1M87 82h3M0 83h1M2 83h1M5 83h1M16 83h1M18 83h2M22 83h1M24 83h1M29 83h6M36 83h12M49 83h29M79 83h7M90 83h1M0 84h1M3 84h1M14 84h1M18 84h1M22 84h4M29 84h7M38 84h2M41 84h3M45 84h32M79 84h1M85 84h1M91 84h1M0 85h1M6 85h2M14 85h1M26 85h3M30 85h3M34 85h2M38 85h2M41 85h5M47 85h1M49 85h4M54 85h16M71 85h7M80 85h2M92 85h1M98 85h1M0 86h1M12 86h1M14 86h1M17 86h1M20 86h2M23 86h1M25 86h2M28 86h1M31 86h1M33 86h2M36 86h6M43 86h1M45 86h31M77 86h1M79 86h2M82 86h1M86 86h1M88 86h1M92 86h1M0 87h1M6 87h1M12 87h1M14 87h1M20 87h5M27 87h3M31 87h1M33 87h1M35 87h3M39 87h17M57 87h22M80 87h5M88 87h1M0 88h2M4 88h1M6 88h1M10 88h2M19 88h1M21 88h1M23 88h1M27 88h6M34 88h44M79 88h2M82 88h2M85 88h2M0 89h1M5 89h1M12 89h1M14 89h2M17 89h2M20 89h2M23 89h2M26 89h1M28 89h4M33 89h4M39 89h38M78 89h2M83 89h2M89 89h1M0 90h2M6 90h1M12 90h1M15 90h1M17 90h1M20 90h5M26 90h1M28 90h7M36 90h3M40 90h8M49 90h28M78 90h1M80 90h2M87 90h1M0 91h1M2 91h1M10 91h1M18 91h3M22 91h1M24 91h1M27 91h3M31 91h3M35 91h42M80 91h2M85 91h1M87 91h1M90 91h1M0 92h2M3 92h1M6 92h1M10 92h2M13 92h1M17 92h1M21 92h1M23 92h1M25 92h1M27 92h3M32 92h6M39 92h35M75 92h1M77 92h1M79 92h1M82 92h2M0 93h1M3 93h1M17 93h1M22 93h1M27 93h3M31 93h2M34 93h4M39 93h43M83 93h1M90 93h1M0 94h1M9 94h1M11 94h1M19 94h1M21 94h1M23 94h1M25 94h1M28 94h13M42 94h32M75 94h5M82 94h1M86 94h1M0 95h1M2 95h1M5 95h1M11 95h1M13 95h1M15 95h1M17 95h4M24 95h1M26 95h1M28 95h2M31 95h1M33 95h40M74 95h7M89 95h1M0 96h1M9 96h1M11 96h1M16 96h1M18 96h1M21 96h2M28 96h4M33 96h1M35 96h20M56 96h20M77 96h4M82 96h1M90 96h1M0 97h2M6 97h1M8 97h1M10 97h1M20 97h2M23 97h4M28 97h50M79 97h2M83 97h1M86 97h1M89 97h2M0 98h1M3 98h2M8 98h2M11 98h3M17 98h3M22 98h56M79 98h1M85 98h1M0 99h2M13 99h1M17 99h1M19 99h1M21 99h3M25 99h1M27 99h4M32 99h48M86 99h1M0 100h1M2 100h1M4 100h1M7 100h1M9 100h1M12 100h2M16 100h1M21 100h1M23 100h7M31 100h40M72 100h3M76 100h1M79 100h1M0 101h1M7 101h2M13 101h9M23 101h2M26 101h3M30 101h49M83 101h2M87 101h1M0 102h1M2 102h2M7 102h1M11 102h2M15 102h5M21 102h1M24 102h2M27 102h48M76 102h3M80 102h1M83 102h1M86 102h1M88 102h1M90 102h1M95 102h2M99 102h1M142 102h1M0 103h2M4 103h1M8 103h2M11 103h1M13 103h1M16 103h2M21 103h1M23 103h52M76 103h1M78 103h1M80 103h2M85 103h1M0 104h1M2 104h1M5 104h4M11 104h1M17 104h1M20 104h1M23 104h11M35 104h43M79 104h1M89 104h2M97 104h1M0 105h1M2 105h1M4 105h2M12 105h2M16 105h2M19 105h2M23 105h57M85 105h1M92 105h1M95 105h1M97 105h1M0 106h3M6 106h2M15 106h1M17 106h2M20 106h1M24 106h1M26 106h4M31 106h1M33 106h39M73 106h4M80 106h1M82 106h1M85 106h1M0 107h1M6 107h2M14 107h1M16 107h1M18 107h9M28 107h51M80 107h1M84 107h2M87 107h1M0 108h1M5 108h3M10 108h1M13 108h1M16 108h1M19 108h3M23 108h2M28 108h48M77 108h1M79 108h2M82 108h1M84 108h1M86 108h1M88 108h1M0 109h2M5 109h2M10 109h1M13 109h1M16 109h1M18 109h2M21 109h4M27 109h2M30 109h47M78 109h5M86 109h2M0 110h2M3 110h1M5 110h1M7 110h2M10 110h1M13 110h1M17 110h2M20 110h1M22 110h5M29 110h3M33 110h3M37 110h37M75 110h2M79 110h2M83 110h2M88 110h2M0 111h1M7 111h2M11 111h1M14 111h1M18 111h2M21 111h2M24 111h1M26 111h2M29 111h4M34 111h7M42 111h33M76 111h1M78 111h4M85 111h1M88 111h1M0 112h1M2 112h1M7 112h1M10 112h1M13 112h1M15 112h1M19 112h1M23 112h1M25 112h7M33 112h44M78 112h4M85 112h2M0 113h2M3 113h1M10 113h7M18 113h6M26 113h41M68 113h6M75 113h3M79 113h1M81 113h1M0 114h1M3 114h1M8 114h1M10 114h3M16 114h1M18 114h3M23 114h1M25 114h3M29 114h12M42 114h32M75 114h1M78 114h4M85 114h1M87 114h2M0 115h3M5 115h1M9 115h1M11 115h1M14 115h5M20 115h7M28 115h4M33 115h2M36 115h36M73 115h7M82 115h1M86 115h1M88 115h2M0 116h1M4 116h1M8 116h2M11 116h2M14 116h1M16 116h2M19 116h1M21 116h1M23 116h4M28 116h49M78 116h2M81 116h1M86 116h1M0 117h1M5 117h1M9 117h3M17 117h2M20 117h1M22 117h4M27 117h3M31 117h1M33 117h45M79 117h1M81 117h4M89 117h2M93 117h1M0 118h2M3 118h2M6 118h1M9 118h4M14 118h1M18 118h2M24 118h2M27 118h2M30 118h41M72 118h4M77 118h1M80 118h1M82 118h1M0 119h2M5 119h1M7 119h3M11 119h1M14 119h3M18 119h3M23 119h5M29 119h2M32 119h49M85 119h2M91 119h1M93 119h1M0 120h1M2 120h1M5 120h1M7 120h1M11 120h1M14 120h1M19 120h5M26 120h4M31 120h47M79 120h2M83 120h1M0 121h1M8 121h3M12 121h2M16 121h3M20 121h6M27 121h1M29 121h46M76 121h6M84 121h1M86 121h1M89 121h1M93 121h2M126 121h1M0 122h1M2 122h1M5 122h1M9 122h4M17 122h3M21 122h1M24 122h1M26 122h3M30 122h2M33 122h37M71 122h9M82 122h1M87 122h1M0 123h5M7 123h3M13 123h1M16 123h4M22 123h4M27 123h50M79 123h3M87 123h1M0 124h2M4 124h2M8 124h2M12 124h1M16 124h5M22 124h1M25 124h4M30 124h11M42 124h1M44 124h32M78 124h2M81 124h3M0 125h1M2 125h1M5 125h1M7 125h2M12 125h1M14 125h1M17 125h2M20 125h3M24 125h1M26 125h2M29 125h40M70 125h1M72 125h1M75 125h2M84 125h1M90 125h1M0 126h2M3 126h1M11 126h2M14 126h6M21 126h2M24 126h8M34 126h4M39 126h42M82 126h1M84 126h1M0 127h1M2 127h2M5 127h2M10 127h1M12 127h1M14 127h2M17 127h1M19 127h11M31 127h1M34 127h30M65 127h5M71 127h4M76 127h1M81 127h1M87 127h1M0 128h1M5 128h1M8 128h2M13 128h3M20 128h6M28 128h49M79 128h1M81 128h2M98 128h1M0 129h1M2 129h1M5 129h1M9 129h1M11 129h1M13 129h2M16 129h1M20 129h1M24 129h46M72 129h2M75 129h3M83 129h1M86 129h1M91 129h1M0 130h1M2 130h2M6 130h1M9 130h1M11 130h2M15 130h2M18 130h2M22 130h2M26 130h3M30 130h39M70 130h4M75 130h1M77 130h4M83 130h1M126 130h1M0 131h2M3 131h2M6 131h4M11 131h1M14 131h1M16 131h2M19 131h2M23 131h2M27 131h4M32 131h40M75 131h1M78 131h1M82 131h2M85 131h2M0 132h1M8 132h2M14 132h1M16 132h4M21 132h1M23 132h1M25 132h8M34 132h42M79 132h1M81 132h1M87 132h1M91 132h1M0 133h1M6 133h1M12 133h1M14 133h7M22 133h1M24 133h1M26 133h20M47 133h24M72 133h1M74 133h1M79 133h1M82 133h1M87 133h1M0 134h4M5 134h3M10 134h1M12 134h5M19 134h2M22 134h1M24 134h1M26 134h1M28 134h3M32 134h43M76 134h2M80 134h1M0 135h1M5 135h1M8 135h3M13 135h3M18 135h1M20 135h6M27 135h41M69 135h3M73 135h5M79 135h2M82 135h1M88 135h1M0 136h3M4 136h1M8 136h1M10 136h1M15 136h3M20 136h50M71 136h2M74 136h6M81 136h1M0 137h1M5 137h3M9 137h2M13 137h2M16 137h3M21 137h4M26 137h1M28 137h1M30 137h2M33 137h44M80 137h1M84 137h1M87 137h1M0 138h2M6 138h1M10 138h2M17 138h4M22 138h2M25 138h50M78 138h1M82 138h1M0 139h2M5 139h1M9 139h1M11 139h1M15 139h1M18 139h2M21 139h3M25 139h5M31 139h2M34 139h7M42 139h25M68 139h6M75 139h1M78 139h2M82 139h2M85 139h1M0 140h1M5 140h1M7 140h1M9 140h1M11 140h1M15 140h3M20 140h3M25 140h3M29 140h2M32 140h3M36 140h24M61 140h9M71 140h4M77 140h1M79 140h2M0 141h3M4 141h1M6 141h1M8 141h1M12 141h1M14 141h4M19 141h1M23 141h3M28 141h3M32 141h10M43 141h31M75 141h1M79 141h1M81 141h1M0 142h1M3 142h1M7 142h1M17 142h2M20 142h2M24 142h2M27 142h9M37 142h2M40 142h33M75 142h6M82 142h1M0 143h1M2 143h1M11 143h1M13 143h1M16 143h3M20 143h1M24 143h1M26 143h2M31 143h1M33 143h3M37 143h33M71 143h1M74 143h1M80 143h1M82 143h2M0 144h1M6 144h2M10 144h2M13 144h1M17 144h1M19 144h1M22 144h2M26 144h1M29 144h1M31 144h10M42 144h34M78 144h1M80 144h1M82 144h1M84 144h1M0 145h2M7 145h1M9 145h1M11 145h1M15 145h1M18 145h9M28 145h5M36 145h1M38 145h1M41 145h3M45 145h27M73 145h1M75 145h2M78 145h1M85 145h1M0 146h1M10 146h1M12 146h1M14 146h1M16 146h1M20 146h1M22 146h1M24 146h10M35 146h1M37 146h10M48 146h10M59 146h5M65 146h1M68 146h2M71 146h9M84 146h1M0 147h1M2 147h1M7 147h1M9 147h1M14 147h1M18 147h1M20 147h3M25 147h3M29 147h4M34 147h16M51 147h7M59 147h3M64 147h6M71 147h6M79 147h1M0 148h1M3 148h1M8 148h1M11 148h1M13 148h1M15 148h1M19 148h2M22 148h1M24 148h1M27 148h8M37 148h1M39 148h5M46 148h29M77 148h1M0 149h1M6 149h2M10 149h1M16 149h3M22 149h1M24 149h1M27 149h23M51 149h9M61 149h8M70 149h1M72 149h1M74 149h3M78 149h2M0 150h1M7 150h1M13 150h2M16 150h1M18 150h1M20 150h6M27 150h4M33 150h1M35 150h5M41 150h5M47 150h8M56 150h8M65 150h1M68 150h1M70 150h3M75 150h1M77 150h1M0 151h1M5 151h1M7 151h1M9 151h1M22 151h1M25 151h2M28 151h3M32 151h8M41 151h14M56 151h3M60 151h4M67 151h4M73 151h2M77 151h2M82 151h1M0 152h1M5 152h1M11 152h1M14 152h4M19 152h1M21 152h2M25 152h1M27 152h1M30 152h1M32 152h2M35 152h1M37 152h3M41 152h8M50 152h3M54 152h6M61 152h1M64 152h4M69 152h1M71 152h1M74 152h3M78 152h1M106 152h1M0 153h1M4 153h1M7 153h2M11 153h1M16 153h1M18 153h9M28 153h3M32 153h1M34 153h14M49 153h2M52 153h3M58 153h6M65 153h2M68 153h3M72 153h1M0 154h1M6 154h1M9 154h1M14 154h1M16 154h1M18 154h1M21 154h2M24 154h3M29 154h1M32 154h1M34 154h2M37 154h1M39 154h2M42 154h5M49 154h9M59 154h2M63 154h4M69 154h2M72 154h1M0 155h1M13 155h1M20 155h1M22 155h4M27 155h2M30 155h1M32 155h3M36 155h1M38 155h1M40 155h5M47 155h11M59 155h1M62 155h6M72 155h2M0 156h2M8 156h1M12 156h1M14 156h1M18 156h2M21 156h2M24 156h1M27 156h1M29 156h1M31 156h1M33 156h4M38 156h4M43 156h4M49 156h1M51 156h2M54 156h5M60 156h4M65 156h2M69 156h3M85 156h1M0 157h1M7 157h1M10 157h1M16 157h2M20 157h1M27 157h3M31 157h1M34 157h1M38 157h3M42 157h5M48 157h15M64 157h2M68 157h2M71 157h2M81 157h1M83 157h1M0 158h1M5 158h2M11 158h1M14 158h1M17 158h1M20 158h5M28 158h1M36 158h3M43 158h2M46 158h2M49 158h2M52 158h3M56 158h7M64 158h7M76 158h1M80 158h1M0 159h1M11 159h1M15 159h2M20 159h1M22 159h2M27 159h1M29 159h2M32 159h1M35 159h3M39 159h2M42 159h11M55 159h1M57 159h1M59 159h1M61 159h1M65 159h1M68 159h1M72 159h1M0 160h1M5 160h1M13 160h1M20 160h1M22 160h3M37 160h4M44 160h7M53 160h2M56 160h4M68 160h2M85 160h1M0 161h1M16 161h1M21 161h1M23 161h2M29 161h1M31 161h1M35 161h2M38 161h3M43 161h2M46 161h2M49 161h6M56 161h1M59 161h3M65 161h1M67 161h3M71 161h2M74 161h1M76 161h1M0 162h1M9 162h1M17 162h2M22 162h1M24 162h1M34 162h1M37 162h3M41 162h1M43 162h1M47 162h1M49 162h1M51 162h3M55 162h2M59 162h2M65 162h1M69 162h1M73 162h1M0 163h1M12 163h1M21 163h2M24 163h1M27 163h1M29 163h1M40 163h4M45 163h2M49 163h5M56 163h1M58 163h4M63 163h3M69 163h1M78 163h1M91 163h1M0 164h1M2 164h1M23 164h1M25 164h2M36 164h1M42 164h2M46 164h1M50 164h1M52 164h1M58 164h1M65 164h1M68 164h1M70 164h1M73 164h1M81 164h1M0 165h1M26 165h1M44 165h3M54 165h1M57 165h1M59 165h2M62 165h3M70 165h1M0 166h1M5 166h1M14 166h1M26 166h1M28 166h1M31 166h1M35 166h1M39 166h1M43 166h1M46 166h1M54 166h3M60 166h1M66 166h1M69 166h1M77 166h1M82 166h1M91 166h2M0 167h1M9 167h1M15 167h1M23 167h1M31 167h1M38 167h1M45 167h1M48 167h1M50 167h2M54 167h2M59 167h1M61 167h2M64 167h1M66 167h2M69 167h2M72 167h1M74 167h1M79 167h1M0 168h1M14 168h1M33 168h1M40 168h1M48 168h1M74 168h1M85 168h1M0 169h1M18 169h1M29 169h1M34 169h1M38 169h1M45 169h2M48 169h2M51 169h1M54 169h2M61 169h1M73 169h1M84 169h1M0 170h1M11 170h1M37 170h1M39 170h1M50 170h2M58 170h1M61 170h3M65 170h2M77 170h1M79 170h1M82 170h1M23 171h1M34 171h1M41 171h1M55 171h1M58 171h1M65 171h1M79 171h1M81 171h1M0 172h1M36 172h1M39 172h1M57 172h1M60 172h1M65 172h4M70 172h1M73 172h1M34 173h1M61 173h1M67 173h1M43 174h1M46 174h1M57 174h2M60 174h2M66 174h1M85 174h1M36 175h2M45 175h1M55 175h1M58 175h1M60 175h1M64 175h1M74 175h1M47 176h1M59 176h1M62 176h1"/>
</g>
</svg>
<g transform="matrix(0.9842 0 0 0.9678 5.23 1.73)"><text class="t" x="520" y="74.6" font-size="78">[Ungated]</text></g>
<g transform="matrix(1.0000 0 0 1.0000 -1.20 0.00)"><text class="t" x="517" y="165.3" font-size="78">CD56-APC-Alexa Fluor 750 / SSC-A</text></g>
<g transform="matrix(0.9935 0 0 1.0000 2.84 0.00)"><text class="t" x="660" y="1917.5" font-size="78">CD56-APC-Alexa Fluor 750</text></g>
<g transform="matrix(0.9729 0 0 0.9348 1.23 70.44)"><text class="t" transform="translate(74.2 1044) rotate(-90)" font-size="78">SSC-A</text></g>
<g transform="matrix(0.8871 0 0 0.9780 38.74 12.65)"><text class="a" x="323.5" y="567.2" font-size="59" text-anchor="end">1000</text></g>
<g transform="matrix(0.8871 0 0 0.9732 39.04 30.17)"><text class="a" x="323.5" y="1142.5" font-size="59" text-anchor="end">500</text></g>
<g transform="matrix(0.9125 0 0 0.9902 30.39 16.36)"><text class="a" x="323.5" y="1717.6" font-size="59" text-anchor="end">0</text></g>
<g transform="matrix(1.0359 0 0 0.9672 -7.98 15.49)"><text class="a" transform="translate(183.5 376) rotate(-90)" font-size="62">(x 10<tspan font-size="42" dy="-22">3</tspan><tspan dy="22">)</tspan></text></g>
<g transform="matrix(0.9276 0 0 0.9647 26.74 62.59)"><text class="t" x="372" y="1795.2" font-size="55" text-anchor="middle">10<tspan font-size="39" dy="-21">2</tspan></text></g>
<g transform="matrix(0.9234 0 0 0.9647 57.10 62.59)"><text class="t" x="747" y="1795.2" font-size="55" text-anchor="middle">10<tspan font-size="39" dy="-21">3</tspan></text></g>
<g transform="matrix(0.9321 0 0 0.9647 76.42 62.59)"><text class="t" x="1122.2" y="1795.2" font-size="55" text-anchor="middle">10<tspan font-size="39" dy="-21">4</tspan></text></g>
<g transform="matrix(0.9260 0 0 0.9647 110.23 62.59)"><text class="t" x="1490.9" y="1795.2" font-size="55" text-anchor="middle">10<tspan font-size="39" dy="-21">5</tspan></text></g>
<g transform="matrix(0.9273 0 0 0.9647 135.92 62.59)"><text class="t" x="1865.8" y="1795.2" font-size="55" text-anchor="middle">10<tspan font-size="39" dy="-21">6</tspan></text></g>

</svg>
</body></html>
